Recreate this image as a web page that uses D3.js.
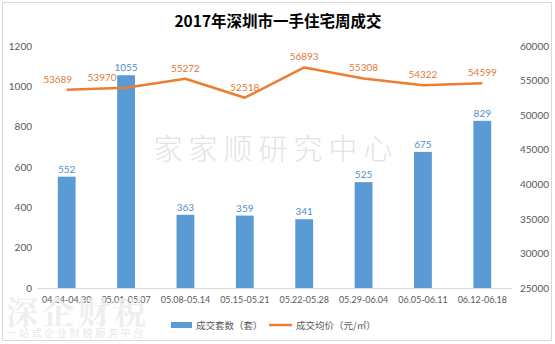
<!DOCTYPE html>
<html>
<head>
<meta charset="utf-8">
<script src="https://cdn.jsdelivr.net/npm/d3@7"></script>
<style>
  html, body { margin: 0; padding: 0; background: #fff; }
  svg { display: block; }
</style>
</head>
<body>
<svg id="chart" width="555" height="344"></svg>
<script>
// Weekly new-home sales in Shenzhen, 2017
const weeks = ["04.24-04.30", "05.01-05.07", "05.08-05.14", "05.15-05.21",
               "05.22-05.28", "05.29-06.04", "06.05-06.11", "06.12-06.18"];
const units = [552, 1055, 363, 359, 341, 525, 675, 829];          // 成交套数（套）
const avgPrice = [53689, 53970, 55272, 52518, 56893, 55308, 54322, 54599]; // 成交均价（元/㎡）
const leftTicks = [0, 200, 400, 600, 800, 1000, 1200];
const rightTicks = [25000, 30000, 35000, 40000, 45000, 50000, 55000, 60000];
const title = "2017年深圳市一手住宅周成交";
const legendBar = "成交套数（套）";
const legendLine = "成交均价（元/㎡）";

const BLUE = "#5B9BD5", ORANGE = "#ED7D31", AXIS_TEXT = "#595959";
const numFont = "Lato, 'Open Sans', sans-serif";
const cjkFont = "'Noto Sans CJK SC', sans-serif";
const plain = d3.format("d");

const svg = d3.select("#chart");

// outer frame
svg.append("rect").attr("x", 2.5).attr("y", 2.5).attr("width", 549).attr("height", 338)
  .attr("fill", "#fff").attr("stroke", "#d9d9d9");

const plot = { left: 37, right: 512, top: 46, bottom: 288 };

const x = d3.scaleBand().domain(weeks).range([plot.left, plot.right])
  .paddingInner(0.7).paddingOuter(0.35);
const yL = d3.scaleLinear().domain([0, 1200]).range([plot.bottom, plot.top]);
const yR = d3.scaleLinear().domain([25000, 60000]).range([plot.bottom, plot.top]);

// title
svg.append("text").attr("x", 278).attr("y", 27).attr("text-anchor", "middle")
  .attr("font-family", cjkFont).attr("font-weight", "bold").attr("font-size", 15.5)
  .attr("fill", "#000").text(title);

// watermark behind the marks
svg.append("text").attr("x", 276).attr("y", 160).attr("text-anchor", "middle")
  .attr("font-family", cjkFont).attr("font-weight", 300).attr("font-size", 29)
  .attr("letter-spacing", 6).attr("fill", "#e3e3e3").text("家家顺研究中心");

// left axis
const axL = svg.append("g").attr("transform", `translate(${plot.left},0)`)
  .attr("color", AXIS_TEXT)
  .call(d3.axisLeft(yL).tickValues(leftTicks).tickFormat(plain).tickSize(0).tickPadding(5));
axL.select(".domain").remove();
axL.selectAll("text").attr("font-family", numFont).attr("font-size", 10)
  .attr("fill", AXIS_TEXT);

// right axis
const axR = svg.append("g").attr("transform", `translate(${plot.right},0)`)
  .attr("color", AXIS_TEXT)
  .call(d3.axisRight(yR).tickValues(rightTicks).tickFormat(plain).tickSize(0).tickPadding(8));
axR.select(".domain").remove();
axR.selectAll("text").attr("font-family", numFont).attr("font-size", 10)
  .attr("fill", AXIS_TEXT);

// bars
svg.append("g").selectAll("rect").data(units).join("rect")
  .attr("x", (d, i) => x(weeks[i]))
  .attr("y", d => yL(d))
  .attr("width", x.bandwidth())
  .attr("height", d => yL(0) - yL(d))
  .attr("fill", BLUE);

// category axis
const axB = svg.append("g").attr("transform", `translate(0,${plot.bottom})`)
  .attr("color", AXIS_TEXT)
  .call(d3.axisBottom(x).tickSize(0).tickPadding(9));
axB.select(".domain").attr("stroke", "#d9d9d9").attr("d", `M${plot.left},0.5H${plot.right}`);
axB.selectAll("text").attr("font-family", numFont).attr("font-size", 9)
  .attr("fill", AXIS_TEXT);

// bar value labels
svg.append("g").selectAll("text").data(units).join("text")
  .attr("x", (d, i) => x(weeks[i]) + x.bandwidth() / 2)
  .attr("y", d => yL(d) - 4)
  .attr("text-anchor", "middle")
  .attr("font-family", numFont).attr("font-size", 10)
  .attr("fill", "#4F8FCB").text(d => d);

// price line
const cx = i => x(weeks[i]) + x.bandwidth() / 2;
const line = d3.line().x((d, i) => cx(i)).y(d => yR(d));
svg.append("path").datum(avgPrice).attr("d", line)
  .attr("fill", "none").attr("stroke", ORANGE).attr("stroke-width", 2.5)
  .attr("stroke-linejoin", "round");

// price labels (first two nudged left, clear of the bar labels)
const labelShift = [-9, -24, 0, 0, 0, 0, 0, 0];
svg.append("g").selectAll("text").data(avgPrice).join("text")
  .attr("x", (d, i) => cx(i) + labelShift[i])
  .attr("y", d => yR(d) - 7)
  .attr("text-anchor", "middle")
  .attr("font-family", numFont).attr("font-size", 10)
  .attr("fill", "#E07A36").text(d => d);

// legend
const lg = svg.append("g");
lg.append("rect").attr("x", 171).attr("y", 322).attr("width", 21).attr("height", 6).attr("fill", BLUE);
lg.append("text").attr("x", 196).attr("y", 329).attr("font-family", cjkFont).attr("font-size", 9.5)
  .attr("fill", AXIS_TEXT).text(legendBar);
lg.append("line").attr("x1", 269).attr("x2", 292).attr("y1", 325).attr("y2", 325)
  .attr("stroke", ORANGE).attr("stroke-width", 2.5);
lg.append("text").attr("x", 296).attr("y", 329).attr("font-family", cjkFont).attr("font-size", 9.5)
  .attr("fill", AXIS_TEXT).text(legendLine);

// corner watermark
svg.append("text").attr("x", 6).attr("y", 324)
  .attr("font-family", "'Noto Serif CJK SC', 'Noto Sans CJK SC', serif").attr("font-weight", "bold")
  .attr("font-size", 32).attr("letter-spacing", 4).attr("fill", "#ececec").attr("opacity", 0.85)
  .text("深企财税");
svg.append("text").attr("x", 6).attr("y", 337)
  .attr("font-family", cjkFont).attr("font-size", 10.5).attr("letter-spacing", 2.2)
  .attr("fill", "#e8e8e8").text("一站式企业财税服务平台");
</script>
</body>
</html>
